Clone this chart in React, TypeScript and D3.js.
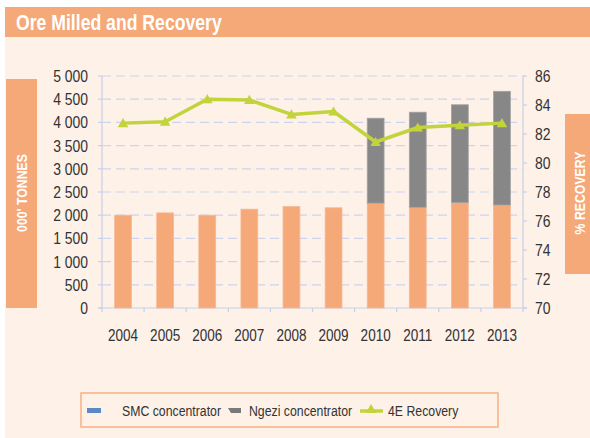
import React from "react";
import * as d3 from "d3";

const years = ["2004", "2005", "2006", "2007", "2008", "2009", "2010", "2011", "2012", "2013"];
const smc = [2000, 2050, 2000, 2130, 2190, 2160, 2260, 2170, 2270, 2220];
const ngezi = [0, 0, 0, 0, 0, 0, 1830, 2050, 2110, 2450];
const recovery = [82.75, 82.85, 84.4, 84.35, 83.35, 83.55, 81.45, 82.45, 82.6, 82.75];
const leftTicks = [0, 500, 1000, 1500, 2000, 2500, 3000, 3500, 4000, 4500, 5000];
const rightTicks = [70, 72, 74, 76, 78, 80, 82, 84, 86];
const legendLabels = ["SMC concentrator", "Ngezi concentrator", "4E Recovery"];

const FONT = "'Liberation Sans', Arial, sans-serif";
const NARROW = 0.82;
const ORANGE = "#f5a878";
const GRAY = "#878787";
const GREEN = "#c3d33a";
const BG = "#fdf1e8";
const GRID = "#cdd4ee";
const AXIS = "#c7d0e8";
const TEXT = "#333333";

type TProps = {
  x: number;
  y: number;
  size: number;
  anchor?: "start" | "middle" | "end";
  bold?: boolean;
  fill?: string;
  rotate?: number;
  children: React.ReactNode;
};

function T({ x, y, size, anchor = "start", bold = false, fill = TEXT, rotate = 0, children }: TProps) {
  return (
    <text
      transform={`translate(${x},${y}) rotate(${rotate}) scale(${NARROW},1)`}
      textAnchor={anchor}
      dominantBaseline="central"
      fontFamily={FONT}
      fontWeight={bold ? "bold" : "normal"}
      fontSize={size}
      fill={fill}
    >
      {children}
    </text>
  );
}

export default function App() {
  const W = 590, H = 438;
  const left = 102, right = 523, top = 76, bottom = 308;
  const x = d3.scaleBand().domain(years).range([left, right]).paddingInner(0.6).paddingOuter(0.3);
  const xb = d3.scaleBand().domain(years).range([left, right]);
  const y = d3.scaleLinear().domain([0, 5000]).range([bottom, top]);
  const yr = d3.scaleLinear().domain([70, 86]).range([bottom, top]);
  const cx = (i: number) => (xb(years[i]) as number) + xb.bandwidth() / 2;
  const line = d3
    .line<number>()
    .x((_, i) => cx(i))
    .y((v) => yr(v));
  const tri = d3.symbol().type(d3.symbolTriangle).size(48)();
  const fmt = (t: number) => d3.format(",")(t).replace(/,/g, " ");

  return (
    <div style={{ position: "absolute", left: 0, top: 0 }}>
      <svg width={W} height={H} style={{ display: "block" }}>
        <rect x={0} y={0} width={W} height={H} fill="#ffffff" />
        <rect x={5} y={7} width={W - 5} height={H - 7} fill={BG} />
        <rect x={5} y={7} width={W - 5} height={30} fill={ORANGE} />
        <T x={16} y={22} size={21.5} bold fill="#ffffff">
          Ore Milled and Recovery
        </T>

        {/* side label boxes */}
        <rect x={6} y={79} width={31} height={229} fill={ORANGE} />
        <T x={22} y={193} size={15} bold fill="#ffffff" anchor="middle" rotate={-90}>
          000' TONNES
        </T>
        <rect x={565} y={114} width={25} height={160} fill={ORANGE} />
        <T x={580} y={193} size={15} bold fill="#ffffff" anchor="middle" rotate={-90}>
          % RECOVERY
        </T>

        {/* gridlines */}
        {leftTicks.slice(1).map((t) => (
          <line key={"g" + t} x1={left} x2={right} y1={y(t)} y2={y(t)} stroke={GRID} strokeWidth={1.2} strokeDasharray="9,5" />
        ))}

        {/* axes */}
        <line x1={left} x2={left} y1={top} y2={bottom} stroke={AXIS} strokeWidth={1.2} />
        <line x1={right} x2={right} y1={top} y2={bottom} stroke={AXIS} strokeWidth={1.2} />
        <line x1={left - 4} x2={right + 4} y1={bottom} y2={bottom} stroke={AXIS} strokeWidth={1.2} />
        {leftTicks.map((t) => (
          <g key={"l" + t}>
            <line x1={left - 4} x2={left} y1={y(t)} y2={y(t)} stroke={AXIS} strokeWidth={1.2} />
            <T x={88} y={y(t)} size={17} anchor="end">
              {fmt(t)}
            </T>
          </g>
        ))}
        {rightTicks.map((t) => (
          <g key={"r" + t}>
            <line x1={right} x2={right + 4} y1={yr(t)} y2={yr(t)} stroke={AXIS} strokeWidth={1.2} />
            <T x={535} y={yr(t)} size={17}>
              {t}
            </T>
          </g>
        ))}
        {years.map((yy) => (
          <line key={"t" + yy} x1={xb(yy)} x2={xb(yy)} y1={bottom} y2={bottom + 4} stroke={AXIS} strokeWidth={1.2} />
        ))}
        <line x1={right} x2={right} y1={bottom} y2={bottom + 4} stroke={AXIS} strokeWidth={1.2} />
        {years.map((yy, i) => (
          <T key={"x" + yy} x={cx(i)} y={335} size={16.5} anchor="middle">
            {yy}
          </T>
        ))}

        {/* bars */}
        {years.map((yy, i) => (
          <g key={"b" + yy}>
            <rect
              x={x(yy)}
              width={x.bandwidth()}
              y={y(smc[i])}
              height={y(0) - y(smc[i])}
              fill={ORANGE}
              stroke="#f7b898"
              strokeWidth={0.8}
            />
            {ngezi[i] > 0 && (
              <rect
                x={x(yy)}
                width={x.bandwidth()}
                y={y(smc[i] + ngezi[i])}
                height={y(smc[i]) - y(smc[i] + ngezi[i])}
                fill={GRAY}
                stroke="#a3a3a3"
                strokeWidth={0.8}
              />
            )}
          </g>
        ))}

        {/* recovery line */}
        <path d={line(recovery) || ""} fill="none" stroke={GREEN} strokeWidth={3.5} strokeLinejoin="round" />
        {recovery.map((v, i) => (
          <path key={"m" + i} d={tri || ""} transform={`translate(${cx(i)},${yr(v) + 1})`} fill={GREEN} />
        ))}

        {/* legend */}
        <rect x={81} y={393} width={417} height={34} fill={BG} stroke="#f8b48a" strokeWidth={1.6} />
        <rect x={87} y={408} width={14} height={5} fill="#5a8ac6" />
        <T x={122} y={411} size={15}>
          {legendLabels[0]}
        </T>
        <path d="M228,408 L241,408 L241,413 L231,413 Z" fill="#7a7a7a" />
        <T x={249} y={411} size={15}>
          {legendLabels[1]}
        </T>
        <line x1={360} x2={383} y1={411} y2={411} stroke={GREEN} strokeWidth={3.5} />
        <path d={tri || ""} transform="translate(371,410)" fill={GREEN} />
        <T x={388} y={411} size={15}>
          {legendLabels[2]}
        </T>
      </svg>
    </div>
  );
}
